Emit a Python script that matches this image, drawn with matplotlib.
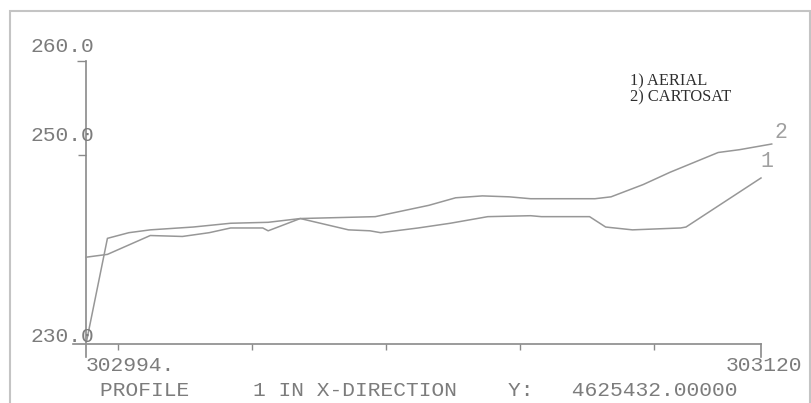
import matplotlib.pyplot as plt
from matplotlib.patches import Rectangle

# elevation profile along the X direction
aerial_x = [302994, 302998, 303002, 303006, 303014, 303021, 303028, 303034,
            303043, 303047, 303049, 303056, 303062, 303069, 303077, 303079,
            303088, 303091, 303096, 303105, 303106, 303120]
aerial_y = [230.0, 241.2, 241.8, 242.1, 242.4, 242.8, 242.9, 243.3,
            242.1, 242.0, 241.8, 242.3, 242.8, 243.5, 243.6, 243.5,
            243.5, 242.4, 242.1, 242.3, 242.4, 247.6]

cartosat_x = [302994, 302998, 303002, 303006, 303012, 303017, 303021, 303027,
              303028, 303034, 303048, 303058, 303063, 303068, 303073, 303077,
              303089, 303092, 303098, 303103, 303112, 303116, 303122]
cartosat_y = [239.2, 239.5, 240.5, 241.5, 241.4, 241.8, 242.3, 242.3,
              242.0, 243.3, 243.5, 244.7, 245.5, 245.7, 245.6, 245.4,
              245.4, 245.6, 246.9, 248.2, 250.3, 250.6, 251.2]

x_min, x_max = 302994, 303120
y_min, y_max = 230.0, 260.0
x_ticks = [303000, 303025, 303050, 303075, 303100]
y_ticks = [250, 260]
y_labels = ["260.0", "250.0", "230.0"]
y_label_vals = [260, 250, 230]
y_label_dy = [15, 20, 8]
legend_lines = ["1) AERIAL", "2) CARTOSAT"]
profile_title = "PROFILE     1 IN X-DIRECTION    Y:   4625432.00000"

mono = "Liberation Mono"
axis_gray = "#8a8a8a"
text_gray = "#7c7c7c"
line_gray = "#979797"

fig = plt.figure(figsize=(8.11, 4.03), dpi=100)
W, H = 811, 403
ax = fig.add_axes([86 / W, 1 - 344 / H, (761 - 86) / W, (344 - 61) / H])
ax.set_xlim(x_min, x_max)
ax.set_ylim(y_min, y_max)
for s in ax.spines.values():
    s.set_visible(False)

# axis lines (drawn by hand so they overhang the origin)
ax.plot([-13 / 675, 1], [0, 0], transform=ax.transAxes, color=axis_gray,
        lw=1.2, clip_on=False)
ax.plot([0, 0], [-13 / 283, 1], transform=ax.transAxes, color=axis_gray,
        lw=1.2, clip_on=False)
ax.plot([1, 1], [0, -13 / 283], transform=ax.transAxes, color=axis_gray,
        lw=1.2, clip_on=False)

ax.set_xticks(x_ticks)
ax.set_yticks(y_ticks)
ax.set_xticklabels([])
ax.set_yticklabels([])
ax.tick_params(axis="x", direction="out", length=4.5, width=1.0, color=axis_gray)
ax.tick_params(axis="y", direction="out", length=5.5, width=1.0, color=axis_gray)
# the top tick is a little longer than the others
ax.yaxis.get_major_ticks()[1].tick1line.set_markersize(6.5)

ax.plot(aerial_x, aerial_y, color=line_gray, lw=1.1, clip_on=False)
ax.plot(cartosat_x, cartosat_y, color=line_gray, lw=1.1, clip_on=False)

# series numbers at line ends
ax.annotate("1", (aerial_x[-1], aerial_y[-1]), xytext=(6, 16),
            textcoords="offset pixels", ha="center", va="center",
            family=mono, fontsize=15.5, color="#a0a0a0",
            annotation_clip=False)
ax.annotate("2", (cartosat_x[-1], cartosat_y[-1]), xytext=(9, 12),
            textcoords="offset pixels", ha="center", va="center",
            family=mono, fontsize=15.5, color="#a0a0a0",
            annotation_clip=False)

# y labels sit slightly above their values
for lab, val, dy in zip(y_labels, y_label_vals, y_label_dy):
    ax.annotate(lab, (x_min, val), xytext=(8, dy), textcoords="offset pixels",
                ha="right", va="center", family=mono, fontsize=15.3,
                color=text_gray, annotation_clip=False)

ax.annotate(f"{x_min}.", (x_min, y_min), xytext=(0, -21),
            textcoords="offset pixels", ha="left", va="center",
            family=mono, fontsize=15.3, color=text_gray, annotation_clip=False)
ax.annotate(f"{x_max}", (x_max, y_min), xytext=(41, -21),
            textcoords="offset pixels", ha="right", va="center",
            family=mono, fontsize=15.3, color=text_gray, annotation_clip=False)

fig.text(100 / W, 1 - 390 / H, profile_title, ha="left", va="center",
         family=mono, fontsize=15.3, color=text_gray)

fig.text(630 / W, 1 - 89.5 / H, "\n".join(legend_lines), ha="left",
         va="center", linespacing=0.95, family="Liberation Serif",
         fontsize=11.8, color="#2e2e2e")

# outer frame, open at the bottom
fig.patches.append(Rectangle((10 / W, -0.1), 800 / W, 1.1 - 11 / H,
                             transform=fig.transFigure, fill=False,
                             edgecolor="#c4c4c4", lw=1.5))

fig.savefig("out.png", dpi=100)
